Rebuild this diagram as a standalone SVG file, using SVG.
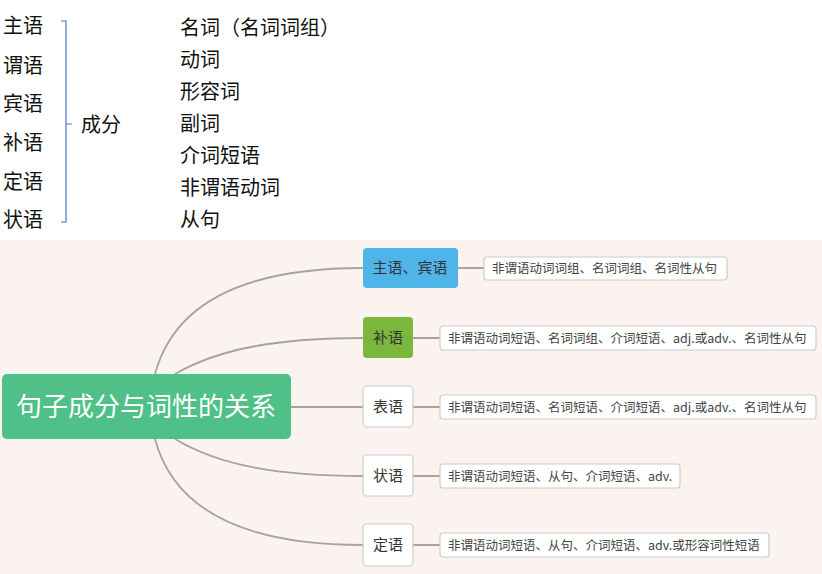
<svg xmlns="http://www.w3.org/2000/svg" width="822" height="574" viewBox="0 0 822 574">
<style>
text{font-family:"Noto Sans CJK SC","Noto Sans",sans-serif}
.t{font-size:20px;fill:#111}
.b{fill:#fff;stroke:#ccc;stroke-width:1.2}
.n{font-size:15px;fill:#333;text-anchor:middle}
.d{font-size:12.5px;fill:#444}
.c{fill:none;stroke:#a8a39f;stroke-width:1.8}
</style>
<rect width="822" height="574" fill="#fff"/>
<rect x="0" y="240" width="822" height="334" fill="#faf3ef"/>
<g id="top">
<text class="t" x="3" y="33">主语</text>
<text class="t" x="3" y="73">谓语</text>
<text class="t" x="3" y="111">宾语</text>
<text class="t" x="3" y="150">补语</text>
<text class="t" x="3" y="189">定语</text>
<text class="t" x="3" y="227">状语</text>
<path d="M61 21 H66 V222 H61 M66 124 H72" fill="none" stroke="#4a72c4" stroke-width="1.2"/>
<text class="t" x="81" y="132">成分</text>
<text class="t" x="180" y="35">名词（名词词组）</text>
<text class="t" x="180" y="67">动词</text>
<text class="t" x="180" y="99">形容词</text>
<text class="t" x="180" y="131">副词</text>
<text class="t" x="180" y="163">介词短语</text>
<text class="t" x="180" y="195">非谓语动词</text>
<text class="t" x="180" y="227">从句</text>
</g>
<g id="connectors">
<path class="c" d="M155 374 C175 300 250 268 363 268"/>
<path class="c" d="M175 374 C220 348 280 338 363 338"/>
<path class="c" d="M291 407 H363"/>
<path class="c" d="M175 439 C220 466 280 476 363 476"/>
<path class="c" d="M155 439 C175 514 250 545 363 545"/>
<path class="c" d="M458 268 H484 M413 338 H440 M413 407 H440 M413 476 H440 M413 545 H440" stroke-width="1.4"/>
</g>
<g id="root"><rect x="2" y="374" width="289" height="65" rx="5" fill="#4fc088"/>
<text x="146" y="416" font-size="26" fill="#fff" text-anchor="middle">句子成分与词性的关系</text></g>
<g id="n1"><rect x="363" y="248" width="95" height="40" rx="4" fill="#4fb4e8"/><text class="n" x="410" y="273">主语、宾语</text></g>
<g id="n2"><rect x="363" y="317" width="50" height="41" rx="4" fill="#7ab73c"/><text class="n" x="388" y="343">补语</text></g>
<g id="n3"><rect class="b" x="363" y="386" width="50" height="41" rx="4"/><text class="n" x="388" y="412">表语</text></g>
<g id="n4"><rect class="b" x="363" y="455" width="50" height="41" rx="4"/><text class="n" x="388" y="481">状语</text></g>
<g id="n5"><rect class="b" x="363" y="524" width="50" height="42" rx="4"/><text class="n" x="388" y="550">定语</text></g>
<g id="d1"><rect class="b" x="484" y="257" width="243" height="23" rx="3"/><text class="d" x="492" y="273">非谓语动词词组、名词词组、名词性从句</text></g>
<g id="d2"><rect class="b" x="440" y="326" width="376" height="24" rx="3"/><text class="d" x="448" y="343">非谓语动词短语、名词词组、介词短语、adj.或adv.、名词性从句</text></g>
<g id="d3"><rect class="b" x="440" y="395" width="376" height="24" rx="3"/><text class="d" x="448" y="412">非谓语动词短语、名词短语、介词短语、adj.或adv.、名词性从句</text></g>
<g id="d4"><rect class="b" x="440" y="464" width="240" height="24" rx="3"/><text class="d" x="448" y="481">非谓语动词短语、从句、介词短语、adv.</text></g>
<g id="d5"><rect class="b" x="440" y="533" width="329" height="24" rx="3"/><text class="d" x="448" y="550">非谓语动词短语、从句、介词短语、adv.或形容词性短语</text></g>
</svg>
